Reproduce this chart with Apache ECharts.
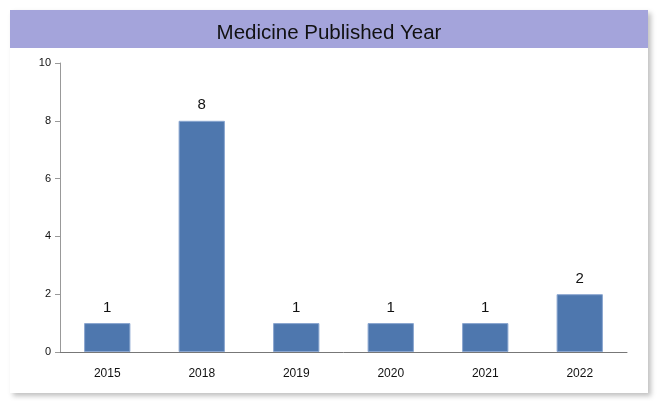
<!DOCTYPE html>
<html>
<head>
<meta charset="utf-8">
<script src="https://cdn.jsdelivr.net/npm/echarts@6/dist/echarts.min.js"></script>
<style>
html,body{margin:0;padding:0;background:#fff;}
#card{position:absolute;left:10px;top:10px;width:638px;height:383px;background:#fff;box-shadow:3px 3px 5px rgba(0,0,0,0.25);}
#chart{width:638px;height:383px;}
</style>
</head>
<body>
<div id="card"><div id="chart"></div></div>
<script>
const categories = ['2015', '2018', '2019', '2020', '2021', '2022'];
const counts = [1, 8, 1, 1, 1, 2];
const titleText = 'Medicine Published Year';

const chart = echarts.init(document.getElementById('chart'), null, {renderer: 'canvas'});
chart.setOption({
  animation: false,
  graphic: [{
    type: 'rect', left: 0, top: 0, z: -1,
    shape: {width: 638, height: 38},
    style: {fill: '#a4a4db'}
  }],
  title: {
    text: titleText, left: 'center', top: 8,
    textStyle: {fontFamily: 'Arial, Liberation Sans', fontSize: 20.5, fontWeight: 'normal', color: '#111'}
  },
  grid: {left: 50, right: 21, top: 53, bottom: 41, containLabel: false},
  xAxis: {
    type: 'category', data: categories,
    axisLine: {lineStyle: {color: '#777', width: 1}},
    axisTick: {show: false},
    axisLabel: {color: '#111', fontFamily: 'Arial, Liberation Sans', fontSize: 12, margin: 16}
  },
  yAxis: {
    type: 'value', min: 0, max: 10, interval: 2,
    splitLine: {show: false},
    axisLine: {show: true, lineStyle: {color: '#999'}},
    axisTick: {show: true, length: 5, lineStyle: {color: '#999'}},
    axisLabel: {color: '#111', fontFamily: 'Arial, Liberation Sans', fontSize: 11, margin: 9}
  },
  series: [{
    type: 'bar', data: counts, barWidth: '49%',
    itemStyle: {color: '#4e77ae', borderColor: '#8aa6d0', borderWidth: 1},
    label: {show: true, position: 'top', distance: 8, color: '#111', fontFamily: 'Arial, Liberation Sans', fontSize: 15}
  }]
});
</script>
</body>
</html>
